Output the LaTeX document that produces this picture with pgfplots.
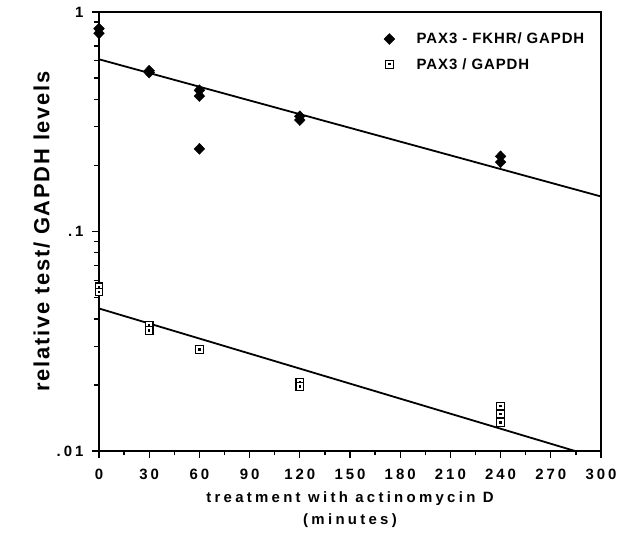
\documentclass[border=0pt]{standalone}
\usepackage{fontspec}
\setmainfont{Liberation Sans}
\newfontfamily\spc{Liberation Sans}[LetterSpace=20]
\newfontfamily\spx{Liberation Sans}[LetterSpace=22]
\newfontfamily\spy{Liberation Sans}[LetterSpace=8]
\newfontfamily\spl{Liberation Sans}[LetterSpace=6]
\usepackage{pgfplots}
\pgfplotsset{compat=1.18}

% open square with a small dot in the middle
\pgfdeclareplotmark{sqdot}{%
  \pgfpathrectangle{\pgfpoint{-\pgfplotmarksize}{-\pgfplotmarksize}}{\pgfpoint{2\pgfplotmarksize}{2\pgfplotmarksize}}%
  \pgfsetfillcolor{white}\pgfusepathqfillstroke
  \pgfpathrectangle{\pgfpoint{-0.3\pgfplotmarksize}{-0.3\pgfplotmarksize}}{\pgfpoint{0.6\pgfplotmarksize}{0.6\pgfplotmarksize}}%
  \pgfsetfillcolor{black}\pgfusepathqfill}

\begin{document}
\begin{tikzpicture}
\begin{axis}[
  scale only axis,
  width=502bp, height=439bp,
  xmin=0, xmax=300, ymin=0.01, ymax=1,
  ymode=log,
  xtick={0,30,...,300},
  xticklabels={0,30,60,90,120,150,180,210,240,270,300},
  minor xtick={15,45,...,285},
  ytick={0.01,0.1,1},
  yticklabels={.01,.1,1},
  minor ytick={0.02,0.03,0.04,0.05,0.06,0.07,0.08,0.09,0.2,0.3,0.4,0.5,0.6,0.7,0.8,0.9},
  tick align=outside,
  tick pos=left,
  major tick length=7bp, minor tick length=4.5bp,
  every tick/.style={black, line width=1.3bp},
  axis line style={line width=1.4bp},
  ticklabel style={font=\spc\bfseries\fontsize{15}{15}\selectfont},
  xticklabel style={yshift=-8bp},
  yticklabel style={xshift=-5bp},
  xlabel={treatment with actinomycin D\\(minutes)},
  xlabel style={font=\spx\bfseries\fontsize{15}{22}\selectfont, align=center, yshift=-5bp},
  ylabel={relative test/ GAPDH levels},
  ylabel style={font=\spy\bfseries\fontsize{22}{22}\selectfont},
  legend style={draw=none, fill=none, at={(rel axis cs:0.977,0.962)}, anchor=north east,
    font=\spl\bfseries\fontsize{15}{15}\selectfont, row sep=9bp,
    /tikz/every odd column/.append style={column sep=20bp}},
  legend cell align=left,
  clip=true,
]
\addplot[only marks, mark=diamond*, mark size=5.5bp, mark options={xscale=1.3, fill=black}]
  coordinates {
    (0,0.84) (0,0.80)
    (30,0.54) (30,0.53)
    (60,0.44) (60,0.414) (60,0.238)
    (120,0.335) (120,0.322)
    (240,0.22) (240,0.207)
  };
\addlegendentry{PAX3 - FKHR/ GAPDH}
\addplot[only marks, mark=sqdot, mark size=3.8bp, mark options={line width=1.2bp}]
  coordinates {
    (0,0.056) (0,0.053)
    (30,0.0373) (30,0.0354)
    (60,0.029)
    (120,0.0205) (120,0.0197)
    (240,0.016) (240,0.0147) (240,0.0135)
  };
\addlegendentry{PAX3 / GAPDH}
\addplot[black, line width=1.8bp, forget plot] coordinates {(0,0.609) (300,0.1444)};
\addplot[black, line width=1.8bp, forget plot] coordinates {(0,0.0446) (284.5,0.01)};
\end{axis}
\path (current axis.south west) ++(-99bp,-85bp) coordinate (bl);
\path (current axis.north east) ++(27bp,12bp) coordinate (tr);
\pgfresetboundingbox
\path[use as bounding box] (bl) rectangle (tr);
\end{tikzpicture}
\end{document}
